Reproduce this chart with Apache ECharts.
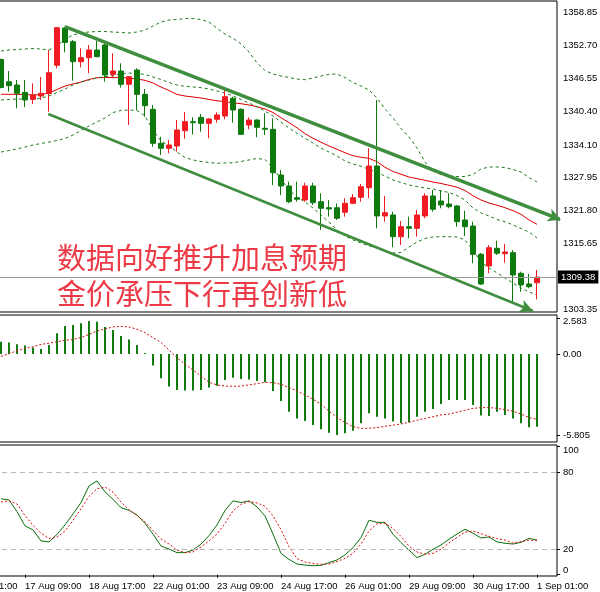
<!DOCTYPE html>
<html><head><meta charset="utf-8">
<script src="https://cdn.jsdelivr.net/npm/echarts@6/dist/echarts.min.js"></script>
<style>html,body{margin:0;padding:0;background:#fff}#c{width:600px;height:592px}</style>
</head><body><div id="c"></div>
<script>
// ---- categories (H4 bars) ----
const days = ['16 Aug','17 Aug','18 Aug','19 Aug','22 Aug','23 Aug','24 Aug','25 Aug','26 Aug','29 Aug','30 Aug','31 Aug','1 Sep'];
const hours = ['01:00','05:00','09:00','13:00','17:00','21:00'];
const preBars = 5, postBars = 2;

// ---- price data [open, close, low, high] ----
const ohlc = [
[1350.09,1344.85,1344.70,1350.25],[1345.94,1345.19,1344.07,1347.94],[1345.32,1343.77,1340.96,1346.26],[1343.95,1342.51,1341.20,1346.26],
[1342.64,1343.45,1341.77,1345.64],[1343.26,1343.77,1342.51,1346.82],[1343.73,1347.62,1340.32,1351.87],[1349.01,1356.04,1348.45,1356.17],
[1355.99,1353.27,1351.44,1356.23],[1353.42,1349.68,1346.13,1353.74],[1349.68,1350.43,1348.63,1352.19],[1350.43,1351.87,1347.51,1352.81],
[1351.87,1350.62,1350.50,1353.55],[1352.81,1347.19,1345.94,1353.12],[1347.32,1347.94,1346.57,1351.25],[1347.94,1345.45,1344.82,1349.38],
[1345.45,1346.87,1337.84,1347.00],[1348.13,1343.58,1340.64,1348.45],[1343.58,1341.45,1339.39,1344.57],[1340.77,1334.41,1333.77,1341.58],
[1334.41,1333.48,1332.22,1335.65],[1333.48,1334.09,1332.54,1335.03],[1333.90,1336.90,1332.84,1338.77],[1336.77,1338.45,1335.27,1340.27],
[1338.45,1338.27,1336.06,1339.27],[1339.27,1338.15,1336.58,1339.89],[1338.15,1338.96,1335.34,1339.10],[1338.90,1339.71,1338.27,1340.21],
[1339.52,1343.13,1338.90,1344.70],[1342.83,1340.64,1338.27,1343.13],[1340.77,1336.09,1335.96,1340.96],[1337.84,1338.77,1337.03,1339.27],
[1338.77,1337.40,1335.53,1338.90],[1337.22,1337.03,1335.96,1340.02],[1337.03,1328.91,1326.61,1339.09],[1328.48,1326.42,1324.74,1329.41],
[1326.42,1323.48,1323.18,1327.22],[1324.23,1323.93,1323.48,1327.22],[1323.80,1326.42,1323.48,1327.04],[1326.42,1323.30,1322.87,1327.04],
[1323.48,1322.25,1318.18,1325.05],[1322.36,1322.12,1320.68,1323.80],[1322.36,1320.38,1320.06,1323.18],[1321.50,1323.18,1320.68,1324.12],
[1323.18,1324.23,1323.05,1324.92],[1324.31,1326.29,1323.48,1326.79],[1326.10,1330.16,1324.12,1333.47],[1330.16,1320.81,1318.50,1342.51],
[1320.81,1321.43,1319.74,1324.55],[1321.00,1316.93,1314.95,1321.61],[1316.93,1318.80,1315.38,1319.87],[1318.80,1318.50,1316.63,1320.68],
[1318.50,1320.99,1316.93,1321.93],[1320.81,1324.55,1320.37,1325.05],[1324.55,1322.06,1321.61,1325.67],[1323.61,1322.87,1322.25,1325.67],
[1323.05,1322.55,1322.25,1325.05],[1322.68,1319.74,1318.80,1322.87],[1320.06,1318.80,1317.06,1321.80],[1318.93,1313.64,1311.96,1319.74],
[1313.64,1308.08,1307.90,1313.88],[1311.45,1314.87,1310.08,1315.38],[1314.76,1313.83,1313.51,1316.18],[1313.75,1314.07,1312.07,1315.57],
[1313.94,1309.77,1304.47,1314.44],[1310.08,1307.90,1306.64,1310.38],[1308.08,1307.58,1307.28,1309.95],[1308.32,1309.38,1305.22,1310.70]
];
const lastPrice = 1309.38;

const maRed = [1343.58,1343.58,1343.58,1343.54,1343.45,1343.54,1343.82,1344.48,1345.13,1345.51,1345.88,1346.35,1346.69,1346.72,1346.72,1346.69,
1346.63,1346.44,1346.20,1345.69,1344.95,1344.29,1343.56,1343.26,1343.08,1342.89,1342.61,1342.38,1342.20,1341.99,1341.82,1341.58,
1341.26,1340.83,1340.17,1339.20,1338.27,1337.33,1336.21,1335.35,1334.60,1333.91,1333.29,1332.65,1332.09,1331.79,1331.60,1330.97,
1329.92,1329.13,1328.61,1328.10,1327.79,1327.49,1327.17,1326.89,1326.55,1326.18,1325.58,1324.60,1323.80,1323.24,1322.81,1322.36,
1321.80,1321.12,1320.06,1319.25];

const bbUpper = [1351.68,1351.87,1351.96,1352.06,1352.15,1352.06,1351.87,1352.62,1353.93,1354.68,1355.05,1355.24,1355.33,1355.33,1355.24,1355.15,
1355.05,1355.24,1355.61,1356.36,1357.11,1357.48,1357.58,1357.76,1357.76,1357.58,1357.11,1355.93,1354.85,1354.06,1352.99,1351.50,
1349.44,1348.03,1347.38,1347.00,1346.72,1346.44,1346.31,1346.63,1347.00,1347.32,1347.38,1346.72,1345.79,1345.13,1344.39,1342.89,
1340.83,1339.15,1337.18,1335.59,1333.53,1330.91,1329.23,1328.57,1328.29,1328.20,1328.20,1328.57,1329.60,1329.98,1329.98,1329.88,
1329.51,1329.04,1328.01,1327.17];

const bbMiddle = [1342.51,1342.61,1342.70,1342.70,1342.61,1342.89,1343.26,1343.92,1344.57,1345.32,1345.88,1346.26,1346.63,1346.87,1347.10,1347.38,
1347.57,1347.47,1347.29,1346.82,1346.35,1345.79,1345.32,1345.08,1344.95,1344.82,1344.57,1344.20,1343.82,1343.26,1342.61,1341.95,
1341.26,1340.44,1339.52,1338.40,1337.27,1336.28,1335.35,1334.47,1333.53,1332.78,1332.04,1331.10,1330.54,1330.11,1329.51,1328.98,
1328.29,1327.54,1327.08,1326.61,1326.33,1326.05,1325.86,1325.49,1325.21,1324.64,1323.80,1322.30,1321.37,1320.81,1320.15,1319.74,
1319.12,1318.47,1317.81,1316.69];

const bbLower = [1332.78,1333.06,1333.34,1333.72,1334.09,1334.37,1334.65,1334.93,1335.31,1335.96,1336.81,1337.65,1338.40,1339.15,1340.17,1340.55,
1340.64,1340.55,1339.52,1336.90,1334.84,1333.91,1332.78,1331.75,1331.29,1331.00,1330.82,1330.67,1330.73,1330.78,1331.00,1331.29,
1331.57,1331.38,1329.79,1327.73,1325.68,1324.36,1323.43,1322.30,1320.99,1319.68,1318.19,1317.06,1316.32,1315.75,1315.19,1314.82,
1314.26,1313.88,1313.98,1315.00,1315.94,1316.60,1316.88,1316.93,1316.93,1316.88,1316.32,1314.44,1312.20,1311.08,1310.15,1309.21,
1308.27,1307.34,1306.59,1306.02];

// trend channel, [category position, price]
const channelUpper = [[13, 1356.23], [75.0, 1320.12]];
const channelLower = [[10.91, 1339.89], [71.5, 1303.03]];

// ---- MACD ----
const macdHist = [0.88,0.83,0.69,0.60,0.46,0.36,0.64,1.48,2.00,2.07,2.19,2.35,2.31,1.93,1.71,1.29,
1.04,0.64,0.07,-0.83,-1.73,-2.33,-2.57,-2.60,-2.60,-2.57,-2.40,-2.27,-1.85,-1.69,-1.79,-1.83,
-1.93,-2.02,-2.64,-3.35,-4.12,-4.60,-4.79,-5.08,-5.38,-5.62,-5.79,-5.66,-5.48,-4.95,-4.23,-4.48,
-4.60,-4.83,-4.95,-4.88,-4.48,-4.12,-3.93,-3.58,-3.29,-3.29,-3.29,-3.64,-4.40,-4.43,-4.12,-4.35,
-4.60,-4.95,-5.23,-5.19];
const macdSignal = [-0.17,0.02,0.23,0.40,0.52,0.69,0.77,0.88,0.98,1.04,1.17,1.40,1.64,1.79,1.93,1.98,
1.93,1.77,1.52,1.17,0.83,0.29,-0.27,-0.73,-1.14,-1.57,-2.02,-2.21,-2.29,-2.31,-2.29,-2.21,
-2.12,-2.02,-2.04,-2.17,-2.40,-2.64,-2.93,-3.23,-3.58,-4.08,-4.54,-4.88,-5.19,-5.31,-5.31,-5.26,
-5.16,-5.08,-5.00,-4.88,-4.73,-4.60,-4.48,-4.35,-4.29,-4.16,-4.02,-3.88,-3.83,-3.83,-3.88,-3.98,
-4.08,-4.29,-4.54,-4.66];

// ---- Stochastic ----
const stochK = [59.2,58.2,49.1,38.0,34.9,26.3,25.5,31.5,38.8,47.3,56.2,69.1,73.0,64.5,58.7,52.2,
50.2,46.5,40.0,31.7,22.3,20.0,17.2,17.2,19.2,23.9,30.4,38.8,50.0,57.5,56.2,57.5,
52.8,45.8,31.7,16.6,12.0,8.3,7.5,7.0,7.3,9.4,11.5,15.4,21.1,28.9,42.4,40.8,
40.8,31.5,25.0,19.2,13.3,15.9,19.8,23.2,27.6,31.7,35.4,32.3,28.6,29.4,25.5,24.5,
23.9,25.2,28.3,27.0];
const stochD = [56.6,57.5,55.1,46.1,38.5,32.4,28.2,29.3,33.9,42.3,51.2,60.9,66.9,68.2,64.2,56.6,
50.6,46.1,41.0,34.4,27.9,23.9,19.2,17.2,17.7,21.6,26.3,31.7,40.0,49.6,54.8,56.9,
55.9,53.3,45.8,35.2,21.7,12.5,9.9,8.8,8.1,8.3,10.2,12.7,16.6,23.9,34.0,39.7,
40.0,36.1,29.8,22.3,17.7,15.9,16.6,19.8,24.7,29.1,33.2,34.0,32.0,29.9,28.1,27.0,
24.7,25.7,27.0,26.5];

// ---- axis ticks ----
const priceTicks = [1303.35,1315.65,1321.80,1327.95,1334.10,1340.40,1346.55,1352.70,1358.85];
const macdTicks = [-5.805, 0, 2.583];
const stochTicks = [0, 20, 80, 100];
const stochLevels = [20, 80];
const labelEvery = 8;

// ---- build ----
const nCat = preBars + ohlc.length + postBars;
const categories = [];
days.forEach(d => hours.forEach(h => categories.push(d + ' ' + h)));
categories.length = nCat;
const pad = (arr, blank) => Array(preBars).fill(blank).concat(arr, Array(postBars).fill(blank));

const GREEN = '#0e7a0e', RED = '#f01c22', BAND = '#1f7a1f', CHAN = '#3e8e3e';
const FONT = 'Liberation Sans';
const axisTxt = {color:'#000', fontSize:9.5, fontFamily:FONT};
const hiddenCat = (gi) => ({type:'category', gridIndex:gi, data:categories, boundaryGap:true,
  axisLine:{show:false}, axisTick:{show:false}, axisLabel:{show:false}, splitLine:{show:false}});
const lineS = (xi, yi, data, color, type, width) => ({type:'line', xAxisIndex:xi, yAxisIndex:yi,
  data:pad(data,'-'), symbol:'none', showSymbol:false, silent:true,
  lineStyle:{color, type, width}, z:3});
const chanData = (pts, rot) => [{value:pts[0], symbol:'none'},
  {value:pts[1], symbol:'arrow', symbolSize:[10,13], symbolRotate:rot, symbolKeepAspect:true}];
const chanS = (id, pts, width) => ({id, type:'line', xAxisIndex:3, yAxisIndex:0, clip:false, silent:true, z:6,
  showSymbol:true, showAllSymbol:true, data:chanData(pts, 0),
  lineStyle:{color:CHAN, width, type:'solid'}, itemStyle:{color:CHAN, borderWidth:0}});
const gridBase = {left:-43, width:600, show:true, borderColor:'#000', borderWidth:1, outerBoundsMode:'none', containLabel:false};

const chart = echarts.init(document.getElementById('c'), null, {renderer:'canvas'});
chart.setOption({
  animation:false,
  backgroundColor:'#fff',
  grid:[
    Object.assign({top:1, height:311}, gridBase),
    Object.assign({top:315, height:127}, gridBase),
    Object.assign({top:445, height:131}, gridBase)
  ],
  xAxis:[
    hiddenCat(0),
    hiddenCat(1),
    {type:'category', gridIndex:2, data:categories, boundaryGap:true,
     axisLine:{show:false},
     axisTick:{show:true, alignWithLabel:true, length:3, interval:(i)=>i%labelEvery===0, lineStyle:{color:'#000'}},
     axisLabel:Object.assign({show:true, align:'left', margin:5, interval:(i)=>i%labelEvery===0}, axisTxt),
     splitLine:{show:false}},
    {type:'value', gridIndex:0, min:-0.5, max:nCat-0.5, show:false}
  ],
  yAxis:[
    {type:'value', gridIndex:0, position:'right', min:1302.84, max:1361.04, scale:true,
     axisLine:{show:false}, splitLine:{show:false},
     axisTick:{show:true, length:3, customValues:priceTicks, lineStyle:{color:'#000'}},
     axisLabel:Object.assign({margin:6, customValues:priceTicks, formatter:(v)=>v.toFixed(2)}, axisTxt)},
    {type:'value', gridIndex:1, position:'right', min:-6.286, max:2.786,
     axisLine:{show:false}, splitLine:{show:false},
     axisTick:{show:true, length:3, customValues:macdTicks, lineStyle:{color:'#000'}},
     axisLabel:Object.assign({margin:6, customValues:macdTicks,
       formatter:(v)=> v===0 ? '0.00' : (v>0 ? '{t|'+v.toFixed(3)+'}' : v.toFixed(3)),
       rich:{t:{padding:[8,0,0,0], fontSize:9.5, fontFamily:FONT, color:'#000'}}}, axisTxt)},
    {type:'value', gridIndex:2, position:'right', min:-1, max:101,
     axisLine:{show:false}, splitLine:{show:false},
     axisTick:{show:true, length:3, customValues:stochTicks, lineStyle:{color:'#000'}},
     axisLabel:Object.assign({margin:6, customValues:stochTicks,
       formatter:(v)=> v===100 ? '{t|100}' : (v===0 ? '{b|0}' : String(v)),
       rich:{t:{padding:[9,0,0,0], fontSize:9.5, fontFamily:FONT, color:'#000'},
             b:{padding:[0,0,9,0], fontSize:9.5, fontFamily:FONT, color:'#000'}}}, axisTxt)}
  ],
  series:[
    {type:'candlestick', xAxisIndex:0, yAxisIndex:0, barWidth:5, silent:true, z:4,
     data:pad(ohlc, ['-','-','-','-']),
     itemStyle:{color:RED, color0:GREEN, borderColor:RED, borderColor0:GREEN, borderWidth:1},
     markLine:{silent:true, symbol:'none', animation:false,
       lineStyle:{color:'#9a9a9a', type:'solid', width:1},
       label:{show:true, position:'end', distance:1, formatter:()=>lastPrice.toFixed(2),
              color:'#fff', backgroundColor:'#000', padding:[2,3,1,3], fontSize:9.5, fontFamily:FONT},
       data:[{yAxis:lastPrice}]}},
    lineS(0,0,maRed,'#e00000','solid',1),
    lineS(0,0,bbUpper,BAND,[3,3],1),
    lineS(0,0,bbMiddle,BAND,[3,3],1),
    lineS(0,0,bbLower,BAND,[3,3],1),
    chanS('chanU', channelUpper, 3.5),
    chanS('chanL', channelLower, 2.5),
    {type:'bar', xAxisIndex:1, yAxisIndex:1, data:pad(macdHist,'-'), barWidth:2, silent:true,
     itemStyle:{color:'#117a11'}},
    lineS(1,1,macdSignal,'#d01010',[2,2],1),
    Object.assign(lineS(2,2,stochK,'#0b6e0b','solid',1), {
      markLine:{silent:true, symbol:'none', animation:false, label:{show:false},
        lineStyle:{color:'#b8b8b8', type:[5,4], width:1},
        data:stochLevels.map(v=>({yAxis:v}))}}),
    lineS(2,2,stochD,'#e01010',[2,2],1)
  ],
  graphic:[
    {type:'text', left:57, top:243, z:100, silent:true,
     style:{text:'数据向好推升加息预期', fill:'#ec3a46', font:'29px "Noto Sans CJK SC"'}},
    {type:'text', left:57, top:279, z:100, silent:true,
     style:{text:'金价承压下行再创新低', fill:'#ec3a46', font:'29px "Noto Sans CJK SC"'}}
  ]
});

// orient the arrow heads along their lines (through the chart's own scales)
function arrowRot(pts) {
  const a = chart.convertToPixel({xAxisIndex:3, yAxisIndex:0}, pts[0]);
  const b = chart.convertToPixel({xAxisIndex:3, yAxisIndex:0}, pts[1]);
  return -(90 + Math.atan2(b[1]-a[1], b[0]-a[0]) * 180 / Math.PI);
}
chart.setOption({series:[
  {id:'chanU', data:chanData(channelUpper, arrowRot(channelUpper))},
  {id:'chanL', data:chanData(channelLower, arrowRot(channelLower))}
]});
</script>
</body></html>
